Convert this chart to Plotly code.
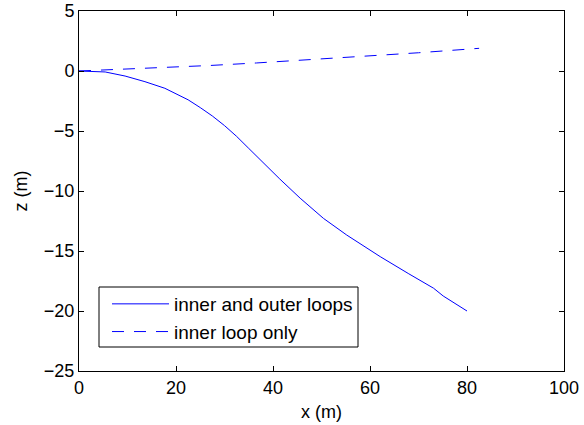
import plotly.graph_objects as go

# inner and outer loops (solid)
x_inner_outer = [0, 2.5, 5.4, 9.5, 13.6, 17.7, 20.0, 22.5, 25.0, 27.5, 30.0, 32.5, 35.0, 37.5, 41.4, 45.6, 50.4, 55.2, 62.1, 68.0, 73.1, 75.1, 80.0]
z_inner_outer = [0, -0.02, -0.08, -0.42, -0.89, -1.44, -1.9, -2.4, -3.05, -3.75, -4.55, -5.45, -6.45, -7.45, -9.0, -10.6, -12.28, -13.67, -15.47, -16.9, -18.1, -18.75, -20.0]

# inner loop only (dashed)
x_inner_only = [0, 8.0, 17.7, 27.0, 36.6, 47.0, 59.3, 70.0, 82.5]
z_inner_only = [0, 0.12, 0.28, 0.46, 0.67, 0.92, 1.22, 1.52, 1.89]

x_ticks = [0, 20, 40, 60, 80, 100]
y_ticks = [5, 0, -5, -10, -15, -20, -25]
y_tick_text = ["5", "0", "\u22125", "\u221210", "\u221215", "\u221220", "\u221225"]

FONT = "Liberation Sans, Arial, sans-serif"
BLUE = "rgb(0,0,255)"

fig = go.Figure()
fig.add_trace(go.Scatter(x=x_inner_outer, y=z_inner_outer, mode="lines",
                         name="inner and outer loops",
                         line=dict(color=BLUE, width=1)))
fig.add_trace(go.Scatter(x=x_inner_only, y=z_inner_only, mode="lines",
                         name="inner loop only",
                         line=dict(color=BLUE, width=1, dash="12px,10px")))

axis_common = dict(showline=True, linecolor="black", linewidth=1, mirror="ticks",
                   ticks="inside", ticklen=5, tickcolor="black", showgrid=False,
                   zeroline=False, automargin=False,
                   tickfont=dict(family=FONT, size=18, color="black"))

# legend frame (plot-area pixel box 99..358 x 287..347)
PL, PT, PW, PH = 79, 11, 485, 360
box = dict(x0=(99 - PL) / PW, x1=(358 - PL) / PW,
           y0=1 - (347 - PT) / PH, y1=1 - (287 - PT) / PH)

fig.update_layout(
    template="none",
    width=584, height=425,
    margin=dict(l=79, r=20, t=11, b=54),
    paper_bgcolor="white", plot_bgcolor="white",
    font=dict(family=FONT, size=18, color="black"),
    xaxis=dict(range=[0, 100], tickvals=x_ticks,
               title=dict(text="x (m)", font=dict(family=FONT, size=18), standoff=8),
               **axis_common),
    yaxis=dict(range=[-25, 5], tickvals=y_ticks, ticktext=y_tick_text,
               title=dict(text="z (m)", font=dict(family=FONT, size=18), standoff=11),
               **axis_common),
    shapes=[dict(type="rect", xref="paper", yref="paper", layer="above",
                 line=dict(color="black", width=1), fillcolor="white", **box)],
    legend=dict(x=(107 - PL) / PW, y=1 - (285 - PT) / PH, xanchor="left", yanchor="top",
                bgcolor="rgba(0,0,0,0)", borderwidth=0,
                font=dict(family=FONT, size=19), itemwidth=57,
                tracegroupgap=0),
    showlegend=True,
)

fig.write_html("out.html", config={"displayModeBar": False},
               post_script="document.body.style.margin='0';")
